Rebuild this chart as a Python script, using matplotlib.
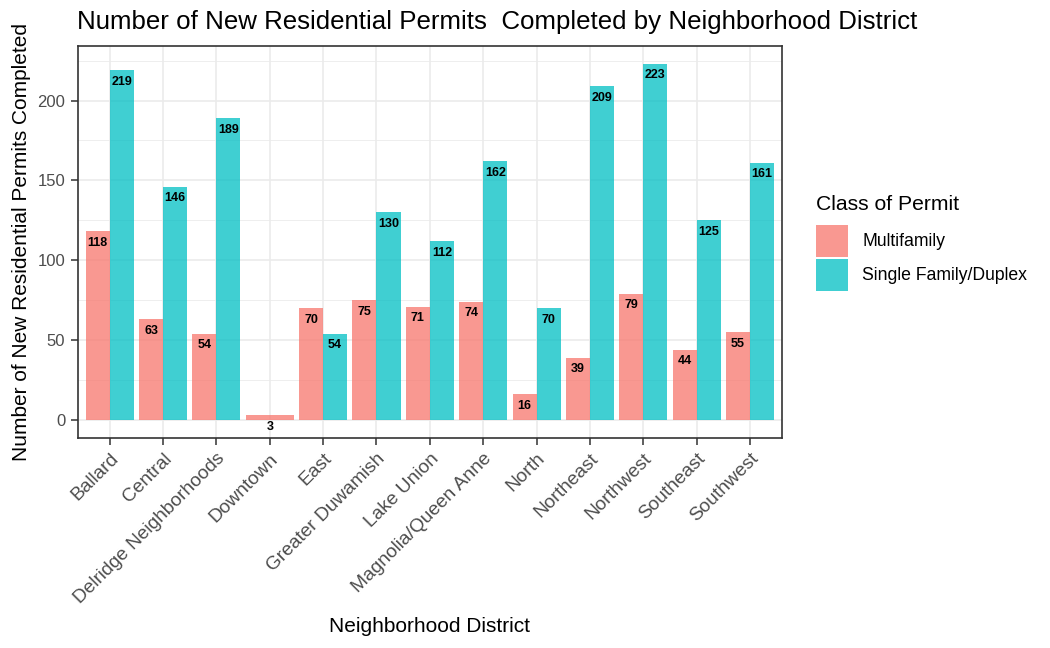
import numpy as np
import matplotlib.pyplot as plt
from matplotlib.patches import Rectangle

plt.rcParams['font.family'] = ['Liberation Sans', 'DejaVu Sans']

districts = ["Ballard", "Central", "Delridge Neighborhoods", "Downtown", "East",
             "Greater Duwamish", "Lake Union", "Magnolia/Queen Anne", "North",
             "Northeast", "Northwest", "Southeast", "Southwest"]
multifamily = [118, 63, 54, 3, 70, 75, 71, 74, 16, 39, 79, 44, 55]
single_family = [219, 146, 189, None, 54, 130, 112, 162, 70, 209, 223, 125, 161]
classes = ["Multifamily", "Single Family/Duplex"]

MF_COL = "#F8766D"
SF_COL = "#00BFC4"
ALPHA = 0.75
W, H = 1050, 648

fig = plt.figure(figsize=(W/100, H/100), dpi=100)
L, R, T, B = 77.7, 782, 46, 437.7
ax = fig.add_axes([L/W, 1-B/H, (R-L)/W, (B-T)/H])


def label(xpos, val):
    ax.annotate(str(val), (xpos, val), xytext=(0, -8.4), textcoords="offset points",
                ha="center", va="center", fontsize=9, fontweight="bold", zorder=3)


x = np.arange(1, len(districts)+1)
w = 0.45
for i in range(len(districts)):
    mf = multifamily[i]
    sf = single_family[i]
    if sf is None:
        # only one class present -> bar fills the whole dodge width
        ax.bar(x[i], mf, width=0.9, color=MF_COL, alpha=ALPHA, zorder=2)
        label(x[i], mf)
        continue
    ax.bar(x[i]-w/2, mf, width=w, color=MF_COL, alpha=ALPHA, zorder=2)
    ax.bar(x[i]+w/2, sf, width=w, color=SF_COL, alpha=ALPHA, zorder=2)
    label(x[i]-w/2, mf)
    label(x[i]+w/2, sf)

ax.set_xlim(0.4, len(districts)+0.6)
ax.set_ylim(-11.15, 234.15)
ax.set_yticks([0, 50, 100, 150, 200])
ax.set_yticks([25, 75, 125, 175, 225], minor=True)
ax.set_xticks(x)
ax.set_xticklabels(districts, rotation=45, ha="right", va="top", rotation_mode="anchor")
ax.tick_params(axis="both", which="major", labelcolor="#4D4D4D",
               color="#333333", length=5, width=1.1, pad=4)
ax.tick_params(axis="y", labelsize=12)
ax.tick_params(axis="x", labelsize=13.8)
ax.tick_params(axis="y", which="minor", length=0)
ax.grid(True, which="major", color="#EBEBEB", linewidth=1.2, zorder=0)
ax.grid(True, which="minor", axis="y", color="#EBEBEB", linewidth=0.6, zorder=0)
ax.set_axisbelow(True)
for s in ax.spines.values():
    s.set_color("#333333")
    s.set_linewidth(1.2)

fig.text((L+R)/2/W, 1-627/H, "Neighborhood District", fontsize=15, ha="center", va="center")
fig.text(22/W, 1-(T+B)/2/H, "Number of New Residential Permits Completed", fontsize=15,
         rotation=90, ha="center", va="center")
fig.text(77/W, 1-22/H, "Number of New Residential Permits  Completed by Neighborhood District",
         fontsize=18.6, ha="left", va="center")

# legend
fig.text(816/W, 1-204/H, "Class of Permit", fontsize=15.2, ha="left", va="center")
key_tops = [225, 259]
for cls, col, top in zip(classes, [MF_COL, SF_COL], key_tops):
    fig.add_artist(Rectangle((816/W, 1-(top+32)/H), 32/W, 32/H, transform=fig.transFigure,
                             facecolor=col, alpha=ALPHA, edgecolor="none"))
    fig.text(862/W, 1-(top+16)/H, cls, fontsize=12.7, ha="left", va="center")

fig.savefig("out.png", dpi=100)
